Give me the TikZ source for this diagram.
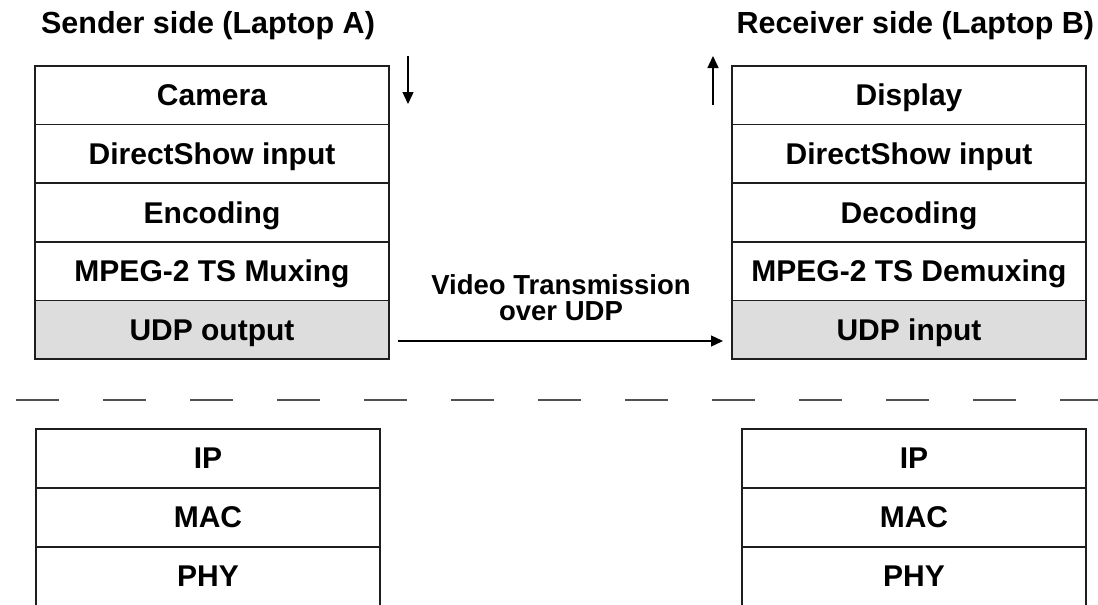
\documentclass[tikz,border=0pt]{standalone}
\usepackage{fontspec}
\setmainfont{Liberation Sans}
\usetikzlibrary{arrows.meta}
\definecolor{udpgray}{RGB}{221,221,221}
\definecolor{edgegray}{RGB}{30,30,30}
\definecolor{dashgray}{RGB}{80,80,80}
\newcommand\layerfont{\fontsize{30}{36}\selectfont\bfseries}
\newcommand\titlefont{\fontsize{30.5}{37}\selectfont\bfseries}
\newcommand\labelfont{\fontsize{27.5}{26}\selectfont\bfseries}
\begin{document}
\begin{tikzpicture}[x=1pt,y=-1pt,
  layer/.style={draw=edgegray, line width=1.5pt, fill=white,
    minimum height=58.6pt, inner sep=0pt, outer sep=0pt,
    text height=25pt, text depth=4pt,
    anchor=north, font=\layerfont},
  upper/.style={layer, minimum width=354pt},
  lower/.style={layer, minimum width=344pt},
  udp/.style={fill=udpgray},
  flow/.style={line width=1.4pt, -{Triangle[length=12pt,width=11pt]}}]
  \clip (0,0) rectangle (1098,605);
  \fill[white] (0,0) rectangle (1098,605);

  % titles
  \node[font=\titlefont, anchor=center] (sendtitle) at (208,26) {Sender side (Laptop A)};
  \node[font=\titlefont, anchor=west] (recvtitle) at (733,26) {Receiver side (Laptop B)};

  % sender application stack
  \node[upper] (cam)  at (212,66)    {Camera};
  \node[upper] (dsin) at (212,124.6) {DirectShow input};
  \node[upper] (enc)  at (212,183.2) {Encoding};
  \node[upper] (mux)  at (212,241.8) {MPEG-2 TS Muxing};
  \node[upper,udp] (udpout) at (212,300.4) {UDP output};

  % receiver application stack
  \node[upper] (disp)  at (909,66)    {Display};
  \node[upper] (dsout) at (909,124.6) {DirectShow input};
  \node[upper] (dec)   at (909,183.2) {Decoding};
  \node[upper] (demux) at (909,241.8) {MPEG-2 TS Demuxing};
  \node[upper,udp] (udpin) at (909,300.4) {UDP input};

  % separator between application and network layers
  \draw[dashgray, line width=2pt, dash pattern=on 43pt off 44pt] (16,400) -- (1098,400);

  % sender network stack
  \node[lower] (ipa)  at (208,429) {IP};
  \node[lower] (maca) at (208,488) {MAC};
  \node[lower] (phya) at (208,547) {PHY};

  % receiver network stack
  \node[lower] (ipb)  at (914,429) {IP};
  \node[lower] (macb) at (914,488) {MAC};
  \node[lower] (phyb) at (914,547) {PHY};

  % direction of data through the stacks
  \coordinate (downtop) at (408,56);
  \coordinate (downend) at (408,104);
  \coordinate (uptop) at (713,56);
  \coordinate (upbase) at (713,105);
  \draw[flow] (downtop) -- (downend);
  \draw[flow] (upbase) -- (uptop);

  % transmission between the UDP layers
  \coordinate (txstart) at (398,341);
  \coordinate (txend) at (723,341);
  \draw[flow] (txstart) -- (txend);
  \node[font=\labelfont, align=center] (txlabel) at (561,298) {Video Transmission\\over UDP};
\end{tikzpicture}
\end{document}
